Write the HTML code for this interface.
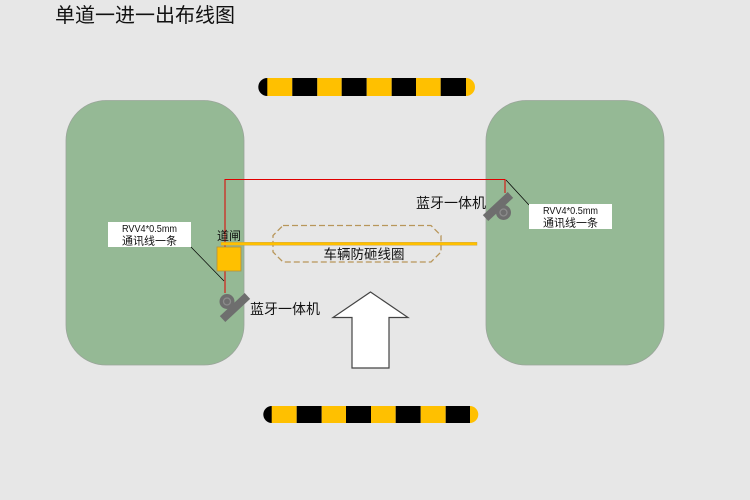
<!DOCTYPE html>
<html><head><meta charset="utf-8"><style>
html,body{margin:0;padding:0;background:#e7e7e7;}
svg{display:block;}
text{font-family:"Liberation Sans","Noto Sans CJK SC",sans-serif;fill:#111;}
</style></head><body>
<svg width="750" height="500" viewBox="0 0 750 500" xmlns="http://www.w3.org/2000/svg">
<defs>
<clipPath id="c1"><rect x="258.3" y="78" width="216.7" height="18" rx="9" ry="9"/></clipPath>
<clipPath id="c2"><rect x="263.3" y="406" width="215" height="17" rx="8.5" ry="8.5"/></clipPath>
</defs>
<rect width="750" height="500" fill="#e7e7e7"/>
<text x="55" y="22" font-size="20">单道一进一出布线图</text>

<!-- top stripe bar -->
<g clip-path="url(#c1)">
<rect x="258" y="78" width="10" height="18" fill="#000"/>
<rect x="267.3" y="78" width="25" height="18" fill="#ffc000"/>
<rect x="292.3" y="78" width="25" height="18" fill="#000"/>
<rect x="317.3" y="78" width="24.4" height="18" fill="#ffc000"/>
<rect x="341.7" y="78" width="25" height="18" fill="#000"/>
<rect x="366.7" y="78" width="25" height="18" fill="#ffc000"/>
<rect x="391.7" y="78" width="24.3" height="18" fill="#000"/>
<rect x="416" y="78" width="24.7" height="18" fill="#ffc000"/>
<rect x="440.7" y="78" width="25.3" height="18" fill="#000"/>
<rect x="466" y="78" width="10" height="18" fill="#ffc000"/>
</g>
<!-- bottom stripe bar -->
<g clip-path="url(#c2)">
<rect x="263" y="406" width="9" height="17" fill="#000"/>
<rect x="271.7" y="406" width="25" height="17" fill="#ffc000"/>
<rect x="296.7" y="406" width="25" height="17" fill="#000"/>
<rect x="321.7" y="406" width="24.3" height="17" fill="#ffc000"/>
<rect x="346" y="406" width="25" height="17" fill="#000"/>
<rect x="371" y="406" width="24.7" height="17" fill="#ffc000"/>
<rect x="395.7" y="406" width="25" height="17" fill="#000"/>
<rect x="420.7" y="406" width="25" height="17" fill="#ffc000"/>
<rect x="445.7" y="406" width="24.3" height="17" fill="#000"/>
<rect x="470" y="406" width="9" height="17" fill="#ffc000"/>
</g>

<!-- green areas -->
<rect x="66" y="100.5" width="178" height="264.5" rx="40" ry="40" fill="#95b995" stroke="#9aa59a" stroke-width="0.8"/>
<rect x="486" y="100.5" width="178" height="264.5" rx="40" ry="40" fill="#95b995" stroke="#9aa59a" stroke-width="0.8"/>

<!-- coil -->
<polygon points="283,225.5 431,225.5 441,235.5 441,252 431,262 283,262 273,252 273,235.5" fill="none" stroke="#b8965a" stroke-width="1.3" stroke-dasharray="6,3"/>
<text x="364" y="259" font-size="13.5" text-anchor="middle">车辆防砸线圈</text>

<!-- red wire -->
<polyline points="225,293 225,179.5 505,179.5 505,193" fill="none" stroke="#e00000" stroke-width="1"/>

<!-- gate arm -->
<rect x="221" y="242.3" width="256" height="3" fill="#ffc000" stroke="#c8a040" stroke-width="0.4"/>
<!-- gate box -->
<rect x="217" y="247" width="24" height="24" fill="#ffc000" stroke="#b09040" stroke-width="0.8"/>
<text x="217" y="240" font-size="12">道闸</text>

<!-- leader lines -->
<line x1="191" y1="247" x2="224" y2="281" stroke="#000" stroke-width="0.7"/>
<line x1="506" y1="180" x2="529" y2="205" stroke="#000" stroke-width="0.7"/>

<!-- label boxes -->
<rect x="108" y="222" width="83" height="25" fill="#fff"/>
<text x="149.5" y="232" font-size="10.5" text-anchor="middle" textLength="55" lengthAdjust="spacingAndGlyphs">RVV4*0.5mm</text>
<text x="149.5" y="244.5" font-size="11" text-anchor="middle">通讯线一条</text>
<rect x="529" y="204" width="83" height="25" fill="#fff"/>
<text x="570.5" y="214" font-size="10.5" text-anchor="middle" textLength="55" lengthAdjust="spacingAndGlyphs">RVV4*0.5mm</text>
<text x="570.5" y="226.5" font-size="11" text-anchor="middle">通讯线一条</text>

<!-- left bluetooth device -->
<g>
<circle cx="227" cy="301.5" r="7.5" fill="#6e6e6e"/>
<circle cx="227" cy="301.5" r="3.5" fill="none" stroke="#8c8c8c" stroke-width="1.3"/>
<rect x="218" y="303.5" width="34" height="8" fill="#6e6e6e" transform="rotate(-43 235 307.5)"/>
</g>
<text x="250" y="314" font-size="14">蓝牙一体机</text>

<!-- right bluetooth device -->
<g>
<circle cx="503.5" cy="212.5" r="7.5" fill="#6e6e6e"/>
<circle cx="503.5" cy="212.5" r="3.5" fill="none" stroke="#8c8c8c" stroke-width="1.3"/>
<rect x="481" y="202.5" width="34" height="8" fill="#6e6e6e" transform="rotate(-43 498 206.5)"/>
</g>
<text x="416" y="208" font-size="14">蓝牙一体机</text>

<!-- arrow -->
<polygon points="370.5,292 408,317.5 389,317.5 389,368 352,368 352,317.5 333,317.5" fill="#fff" stroke="#444" stroke-width="1.2"/>
</svg>
</body></html>
